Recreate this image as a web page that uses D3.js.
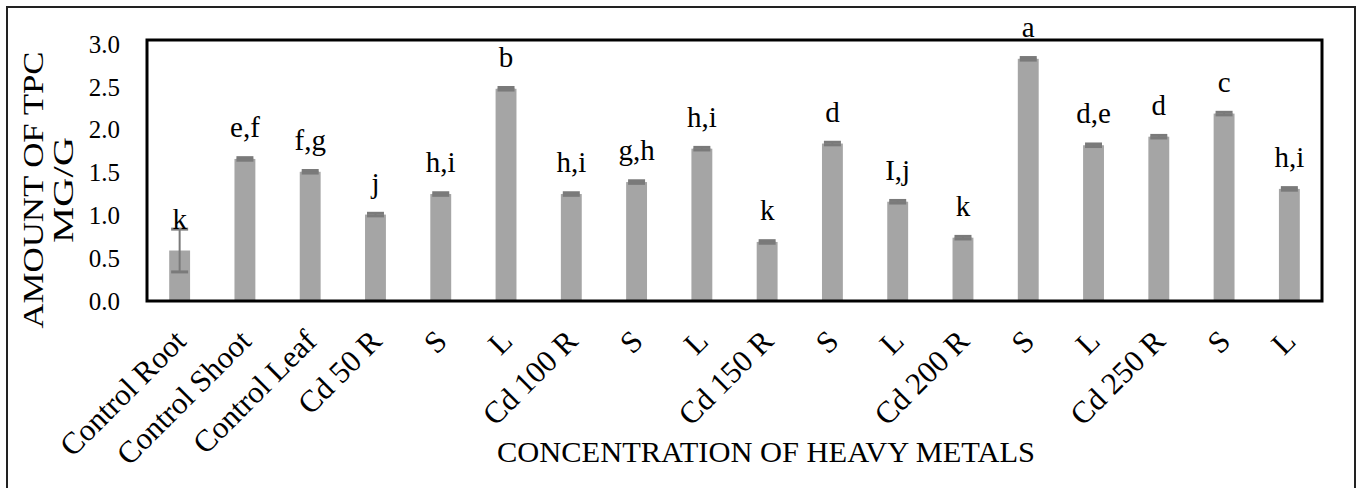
<!DOCTYPE html>
<html>
<head>
<meta charset="utf-8">
<script src="https://cdn.jsdelivr.net/npm/d3@7"></script>
<style>
  body { margin: 0; background: #fff; }
  svg { display: block; font-family: "Liberation Serif", "Times New Roman", serif; }
</style>
</head>
<body>
<div id="chart"></div>
<script>
// Data
var categories = ["Control Root", "Control Shoot", "Control Leaf", "Cd 50 R", "S", "L",
                  "Cd 100 R", "S ", "L ", "Cd 150 R", "S  ", "L  ",
                  "Cd 200 R", "S   ", "L   ", "Cd 250 R", "S    ", "L    "];
var values = [0.59, 1.66, 1.51, 1.01, 1.25, 2.48,
              1.25, 1.39, 1.78, 0.69, 1.84, 1.16,
              0.74, 2.83, 1.82, 1.92, 2.19, 1.31];
var errors = [0.25, 0.015, 0.015, 0.015, 0.015, 0.015,
              0.015, 0.015, 0.015, 0.015, 0.015, 0.015,
              0.015, 0.015, 0.015, 0.015, 0.015, 0.015];
var letters = ["k", "e,f", "f,g", "j", "h,i", "b",
               "h,i", "g,h", "h,i", "k", "d", "I,j",
               "k", "a", "d,e", "d", "c", "h,i"];
var yTicks = [0, 0.5, 1.0, 1.5, 2.0, 2.5, 3.0];

var width = 1361, height = 488;
var plot = {left: 147, right: 1322, top: 40, bottom: 301};

var svg = d3.select("#chart").append("svg")
  .attr("width", width)
  .attr("height", height);

// outer frame (runs off the bottom of the picture)
svg.append("rect")
  .attr("x", 7).attr("y", 7)
  .attr("width", 1348).attr("height", 500)
  .style("fill", "none")
  .style("stroke", "#222")
  .style("stroke-width", 2);

var x = d3.scaleBand()
  .domain(d3.range(categories.length))
  .range([plot.left, plot.right])
  .paddingInner(0.68)
  .paddingOuter(0.34);

var y = d3.scaleLinear()
  .domain([0, 3.05])
  .range([plot.bottom, plot.top]);

//Bars
svg.append("g").selectAll("rect")
  .data(values)
  .enter().append("rect")
    .attr("x", function(d, i){ return x(i); })
    .attr("y", function(d){ return y(d); })
    .attr("width", x.bandwidth())
    .attr("height", function(d){ return y(0) - y(d); })
    .style("fill", "#a5a5a5");

//Error bars
var capW = 17;
var err = svg.append("g").selectAll("g")
  .data(values)
  .enter().append("g")
    .attr("transform", function(d, i){ return "translate(" + (x(i) + x.bandwidth() / 2) + ",0)"; });

err.append("line")
  .attr("x1", 0).attr("x2", 0)
  .attr("y1", function(d, i){ return y(d - errors[i]); })
  .attr("y2", function(d, i){ return y(d + errors[i]); })
  .style("stroke", "#7a7a7a")
  .style("stroke-width", 2);

err.append("line")
  .attr("x1", -capW / 2).attr("x2", capW / 2)
  .attr("y1", function(d, i){ return y(d + errors[i]); })
  .attr("y2", function(d, i){ return y(d + errors[i]); })
  .style("stroke", "#7a7a7a")
  .style("stroke-width", 3);

err.append("line")
  .attr("x1", -capW / 2).attr("x2", capW / 2)
  .attr("y1", function(d, i){ return y(d - errors[i]); })
  .attr("y2", function(d, i){ return y(d - errors[i]); })
  .style("stroke", "#7a7a7a")
  .style("stroke-width", 3);

//Significance letters
svg.append("g").selectAll("text")
  .data(letters)
  .enter().append("text")
    .attr("x", function(d, i){ return x(i) + x.bandwidth() / 2; })
    .attr("y", function(d, i){ return y(values[i]) - 22; })
    .style("text-anchor", "middle")
    .style("font-family", "Liberation Serif")
    .style("font-size", "29px")
    .style("fill", "#000")
    .text(function(d){ return d; });

//Plot frame
svg.append("rect")
  .attr("x", plot.left).attr("y", plot.top)
  .attr("width", plot.right - plot.left)
  .attr("height", plot.bottom - plot.top)
  .style("fill", "none")
  .style("stroke", "#000")
  .style("stroke-width", 3);

//Y axis
var yAxis = svg.append("g")
  .attr("transform", "translate(" + plot.left + ",0)")
  .call(d3.axisLeft(y).tickValues(yTicks).tickSize(0).tickPadding(27).tickFormat(d3.format(".1f")));
yAxis.select(".domain").remove();
yAxis.selectAll("text")
  .style("font-family", "Liberation Serif")
  .style("font-size", "25px")
  .style("fill", "#000");

//X axis
var xAxis = svg.append("g")
  .attr("transform", "translate(0," + plot.bottom + ")")
  .call(d3.axisBottom(x).tickSize(0).tickFormat(function(i){ return categories[i].trim(); }));
xAxis.select(".domain").remove();
xAxis.selectAll("text")
  .attr("x", 0).attr("y", 0).attr("dy", 0)
  .attr("transform", "translate(8,42) rotate(-45)")
  .style("text-anchor", "end")
  .style("font-family", "Liberation Serif")
  .style("font-size", "31px")
  .style("fill", "#000");

//Label for Y axis
var yLab = svg.append("g").attr("transform", "translate(0,190) rotate(-90)");
yLab.append("text")
  .attr("x", 0).attr("y", 43)
  .attr("textLength", 277)
  .attr("lengthAdjust", "spacingAndGlyphs")
  .style("text-anchor", "middle")
  .style("font-family", "Liberation Serif")
  .style("font-size", "30px")
  .text("AMOUNT OF TPC");
yLab.append("text")
  .attr("x", 0).attr("y", 73)
  .attr("textLength", 106)
  .attr("lengthAdjust", "spacingAndGlyphs")
  .style("text-anchor", "middle")
  .style("font-family", "Liberation Serif")
  .style("font-size", "30px")
  .text("MG/G");

//Label for X axis
svg.append("text")
  .attr("x", 766).attr("y", 462)
  .attr("textLength", 538)
  .attr("lengthAdjust", "spacingAndGlyphs")
  .style("text-anchor", "middle")
  .style("font-family", "Liberation Serif")
  .style("font-size", "29px")
  .text("CONCENTRATION OF HEAVY METALS");
</script>
</body>
</html>
